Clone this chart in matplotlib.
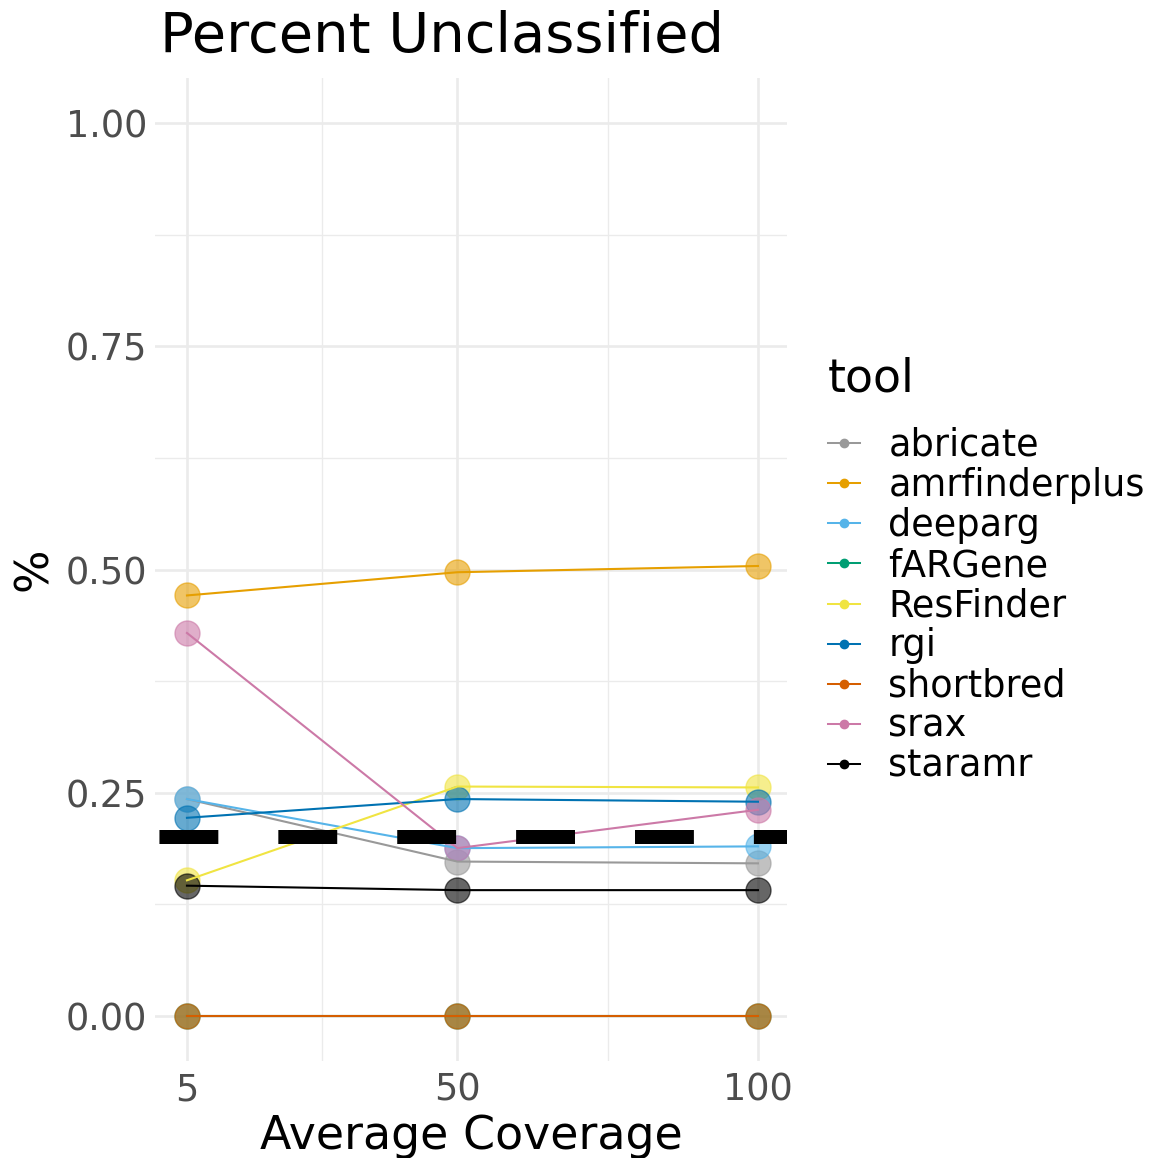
import matplotlib
matplotlib.use("Agg")
import matplotlib.pyplot as plt
from matplotlib.lines import Line2D

plt.rcParams["font.family"] = ["DejaVu Sans"]
plt.rcParams["lines.scale_dashes"] = False

# Data: fraction of unclassified reads per tool at each average coverage
coverage = [5, 50, 100]
tools = ["abricate", "amrfinderplus", "deeparg", "fARGene", "ResFinder",
         "rgi", "shortbred", "srax", "staramr"]
abricate = [0.243, 0.173, 0.171]
amrfinderplus = [0.471, 0.497, 0.504]
deeparg = [0.243, 0.188, 0.190]
fargene = [0.0, 0.0, 0.0]
resfinder = [0.152, 0.257, 0.256]
rgi = [0.222, 0.243, 0.240]
shortbred = [0.0, 0.0, 0.0]
srax = [0.429, 0.188, 0.231]
staramr = [0.146, 0.141, 0.141]
threshold = 0.2

series = [abricate, amrfinderplus, deeparg, fargene, resfinder,
          rgi, shortbred, srax, staramr]
colors = ["#999999", "#E69F00", "#56B4E9", "#009E73", "#F0E442",
          "#0072B2", "#D55E00", "#CC79A7", "#000000"]

W, H, DPI = 1151, 1158, 100
fig = plt.figure(figsize=(W / DPI, H / DPI), dpi=DPI)
fig.patch.set_facecolor("white")

# panel in pixel coordinates
px_l, px_r, px_t, px_b = 155.4, 786.5, 78.4, 1060.7
ax = fig.add_axes([px_l / W, 1 - px_b / H, (px_r - px_l) / W, (px_b - px_t) / H])

ax.set_xlim(-0.25, 104.75)
ax.set_ylim(-0.05, 1.05)

# grid (theme_minimal style)
grid_col = "#EBEBEB"
ax.set_xticks([5, 50, 100])
ax.set_xticks([27.5, 75], minor=True)
ax.set_yticks([0, 0.25, 0.5, 0.75, 1.0])
ax.set_yticks([0.125, 0.375, 0.625, 0.875], minor=True)
ax.set_yticklabels(["0.00", "0.25", "0.50", "0.75", "1.00"])
ax.set_xticklabels(["5", "50", "100"])
ax.grid(which="major", color=grid_col, linewidth=1.9)
ax.grid(which="minor", color=grid_col, linewidth=0.95)
ax.set_axisbelow(True)
for s in ax.spines.values():
    s.set_visible(False)
ax.tick_params(which="both", length=0)
ax.tick_params(axis="y", labelsize=26.4, labelcolor="#4D4D4D", pad=6)
ax.tick_params(axis="x", labelsize=26.4, labelcolor="#4D4D4D", pad=8)

# points first, then lines on top
for vals, col in zip(series, colors):
    ax.scatter(coverage, vals, s=18 ** 2, color=col, alpha=0.6,
               edgecolors=col, linewidths=1.0, zorder=3)
for vals, col in zip(series, colors):
    ax.plot(coverage, vals, color=col, linewidth=1.5, zorder=4)

# reference threshold
ax.axhline(threshold, color="black", linewidth=10.08,
           linestyle=(82.4, (42.4, 43.2)), dash_capstyle="butt", zorder=5)

ax.set_xlabel("Average Coverage", fontsize=33, labelpad=4)
ax.set_ylabel("%", fontsize=33, labelpad=6)
title = ax.set_title("Percent Unclassified", fontsize=40.2, loc="left", pad=19)
title.set_x(5 / (px_r - px_l))

handles = [Line2D([0], [0], color=c, linewidth=1.45, marker="o", markersize=6)
           for c in colors]
leg = fig.legend(handles, tools, title="tool", loc="upper left",
                 bbox_to_anchor=(828 / W, 1 - 357 / H), frameon=False,
                 fontsize=26.4, title_fontsize=33, alignment="left",
                 handlelength=0.87, handletextpad=0.78, labelspacing=0.086,
                 borderpad=0, borderaxespad=0)
# extra space between the legend title and its entries
leg._legend_box.sep = 17.8

fig.savefig("out.png", dpi=DPI, facecolor="white")
